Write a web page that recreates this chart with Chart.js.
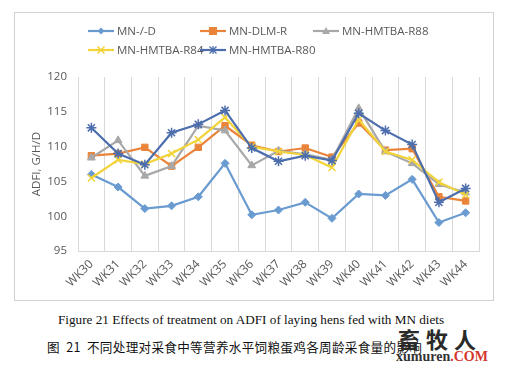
<!DOCTYPE html>
<html>
<head>
<meta charset="utf-8">
<script src="https://cdn.jsdelivr.net/npm/chart.js@4"></script>
<style>
  body { margin: 0; background: #fff; width: 524px; height: 367px; position: relative; overflow: hidden; }
  #frame { position: absolute; left: 14px; top: 12px; width: 480px; height: 289px; border: 1px solid #d2d2d2; box-sizing: border-box; }
  #chartBox { position: absolute; left: 14px; top: 12px; width: 479px; height: 288px; }
  #legend { position: absolute; left: 0; top: 0; font-family: "Open Sans", "Liberation Sans", sans-serif; font-size: 11.5px; color: #595959; }
  .item { position: absolute; white-space: nowrap; line-height: 14px; }
  .item svg { position: absolute; left: 0; top: 0; }
  .item span { position: absolute; left: 29px; top: 0; }
  .cap { position: absolute; white-space: nowrap; color: #111; }
  #capEn { left: 58px; top: 312px; font-family: "Liberation Serif", "DejaVu Serif", serif; font-size: 13.2px; }
  #capZh { left: 47px; top: 337px; font-family: "Noto Sans CJK SC", sans-serif; font-size: 12.6px; letter-spacing: 0.3px; }
  #wm1 { position: absolute; left: 398px; top: 322px; font-family: "Noto Sans CJK SC", sans-serif; font-weight: bold; font-size: 22px; color: #2a2a2a; letter-spacing: 6px; }
  #wm2 { position: absolute; left: 396px; top: 349px; font-family: "Liberation Serif", serif; font-weight: bold; font-size: 14px; color: #333; }
  #wm2 b { color: #d4372c; }
</style>
</head>
<body>
<div id="frame"></div>
<div id="chartBox"><canvas id="c"></canvas></div>
<div id="legend"></div>
<div class="cap" id="capEn">Figure 21 Effects of treatment on ADFI of laying hens fed with MN diets</div>
<div class="cap" id="capZh">图&nbsp;&nbsp;21&nbsp;&nbsp;不同处理对采食中等营养水平饲粮蛋鸡各周龄采食量的影响</div>
<div id="wm1">畜牧人</div>
<div id="wm2">xumuren<b>.COM</b></div>
<script>
const weeks = ['WK30','WK31','WK32','WK33','WK34','WK35','WK36','WK37','WK38','WK39','WK40','WK41','WK42','WK43','WK44'];
const seriesNames = ['MN-/-D','MN-DLM-R','MN-HMTBA-R88','MN-HMTBA-R84','MN-HMTBA-R80'];
const mnD      = [106.0,104.2,101.1,101.5,102.8,107.6,100.2,100.9,102.0, 99.7,103.2,103.0,105.3, 99.1,100.5];
const mnDLM    = [108.7,109.0,109.9,107.2,109.9,113.0,110.2,109.3,109.8,108.5,113.4,109.5,109.7,102.8,102.2];
const mnR88    = [108.4,110.9,105.8,107.2,113.0,112.3,107.3,109.4,108.9,108.1,115.5,109.3,107.6,104.6,103.4];
const mnR84    = [105.5,108.1,107.5,109.0,111.0,114.2,110.0,109.3,108.8,107.0,113.9,109.3,108.1,104.9,103.1];
const mnR80    = [112.7,109.0,107.4,112.0,113.2,115.2,109.8,107.9,108.7,108.0,114.8,112.3,110.3,102.0,104.0];
const yTicks = [95,100,105,110,115,120];

const colors = ['#6a9bd0','#e9843a','#a8a8a8','#f2d43a','#4d6ead'];
const pointStyles = ['rectRot','rect','triangle','crossRot','star'];
const radii = [4,4.5,4.5,5,5];
const values = [mnD, mnDLM, mnR88, mnR84, mnR80];

const datasets = seriesNames.map((name, i) => ({
  label: name,
  data: values[i],
  borderColor: colors[i],
  backgroundColor: colors[i],
  borderWidth: 2.2,
  pointStyle: pointStyles[i],
  pointRadius: radii[i],
  pointBorderWidth: i >= 3 ? 1.5 : 1,
  pointBackgroundColor: colors[i],
  pointBorderColor: colors[i],
  tension: 0,
  order: 5 - i
}));

// legend (Excel style: line with marker)
const legendPos = [[88,24],[200,24],[313,24],[88,43],[200,43]];
const markerSvg = (i) => {
  const c = colors[i], cx = 13, cy = 7;
  switch (pointStyles[i]) {
    case 'rectRot': return `<polygon points="${cx},${cy-3.5} ${cx+3.5},${cy} ${cx},${cy+3.5} ${cx-3.5},${cy}" fill="${c}"/>`;
    case 'rect': return `<rect x="${cx-4}" y="${cy-4}" width="8" height="8" fill="${c}"/>`;
    case 'triangle': return `<polygon points="${cx},${cy-4} ${cx+4},${cy+3} ${cx-4},${cy+3}" fill="${c}"/>`;
    case 'crossRot': return `<path d="M${cx-3.5},${cy-3.5}L${cx+3.5},${cy+3.5}M${cx+3.5},${cy-3.5}L${cx-3.5},${cy+3.5}" stroke="${c}" stroke-width="1.5"/>`;
    default: return `<path d="M${cx-3.5},${cy-3.5}L${cx+3.5},${cy+3.5}M${cx+3.5},${cy-3.5}L${cx-3.5},${cy+3.5}M${cx},${cy-4}L${cx},${cy+4}" stroke="${c}" stroke-width="1.3"/>`;
  }
};
const legend = document.getElementById('legend');
seriesNames.forEach((name, i) => {
  const d = document.createElement('div');
  d.className = 'item';
  d.style.left = legendPos[i][0] + 'px';
  d.style.top = legendPos[i][1] + 'px';
  d.innerHTML = `<svg width="27" height="14"><line x1="0" y1="7" x2="26" y2="7" stroke="${colors[i]}" stroke-width="2.2"/>${markerSvg(i)}</svg><span>${name}</span>`;
  legend.appendChild(d);
});

new Chart(document.getElementById('c'), {
  type: 'line',
  data: { labels: weeks, datasets },
  options: {
    responsive: true,
    maintainAspectRatio: false,
    animation: false,
    layout: { padding: { left: 16, right: 14, top: 65, bottom: 4 } },
    plugins: { legend: { display: false }, tooltip: { enabled: false } },
    scales: {
      x: {
        offset: true,
        grid: { color: '#d9d9d9', offset: true, drawTicks: false },
        border: { color: '#d9d9d9' },
        afterFit: (scale) => { scale.paddingLeft = 0; scale.paddingRight = 0; },
        ticks: {
          minRotation: 45, maxRotation: 45, padding: 6,
          color: '#595959', font: { family: 'Open Sans', size: 12 }
        }
      },
      y: {
        min: 95, max: 120,
        afterBuildTicks: (axis) => { axis.ticks = yTicks.map(v => ({ value: v })); },
        afterFit: (scale) => { scale.width = 48; },
        grid: { display: false, drawTicks: false },
        border: { display: false },
        ticks: { padding: 11, color: '#595959', font: { family: 'Open Sans', size: 11.5 } },
        title: {
          display: true, text: 'ADFI, G/H/D', color: '#595959',
          font: { family: 'Open Sans', size: 11.5 }, padding: { top: 0, bottom: 4 }
        }
      }
    }
  }
});
</script>
</body>
</html>
